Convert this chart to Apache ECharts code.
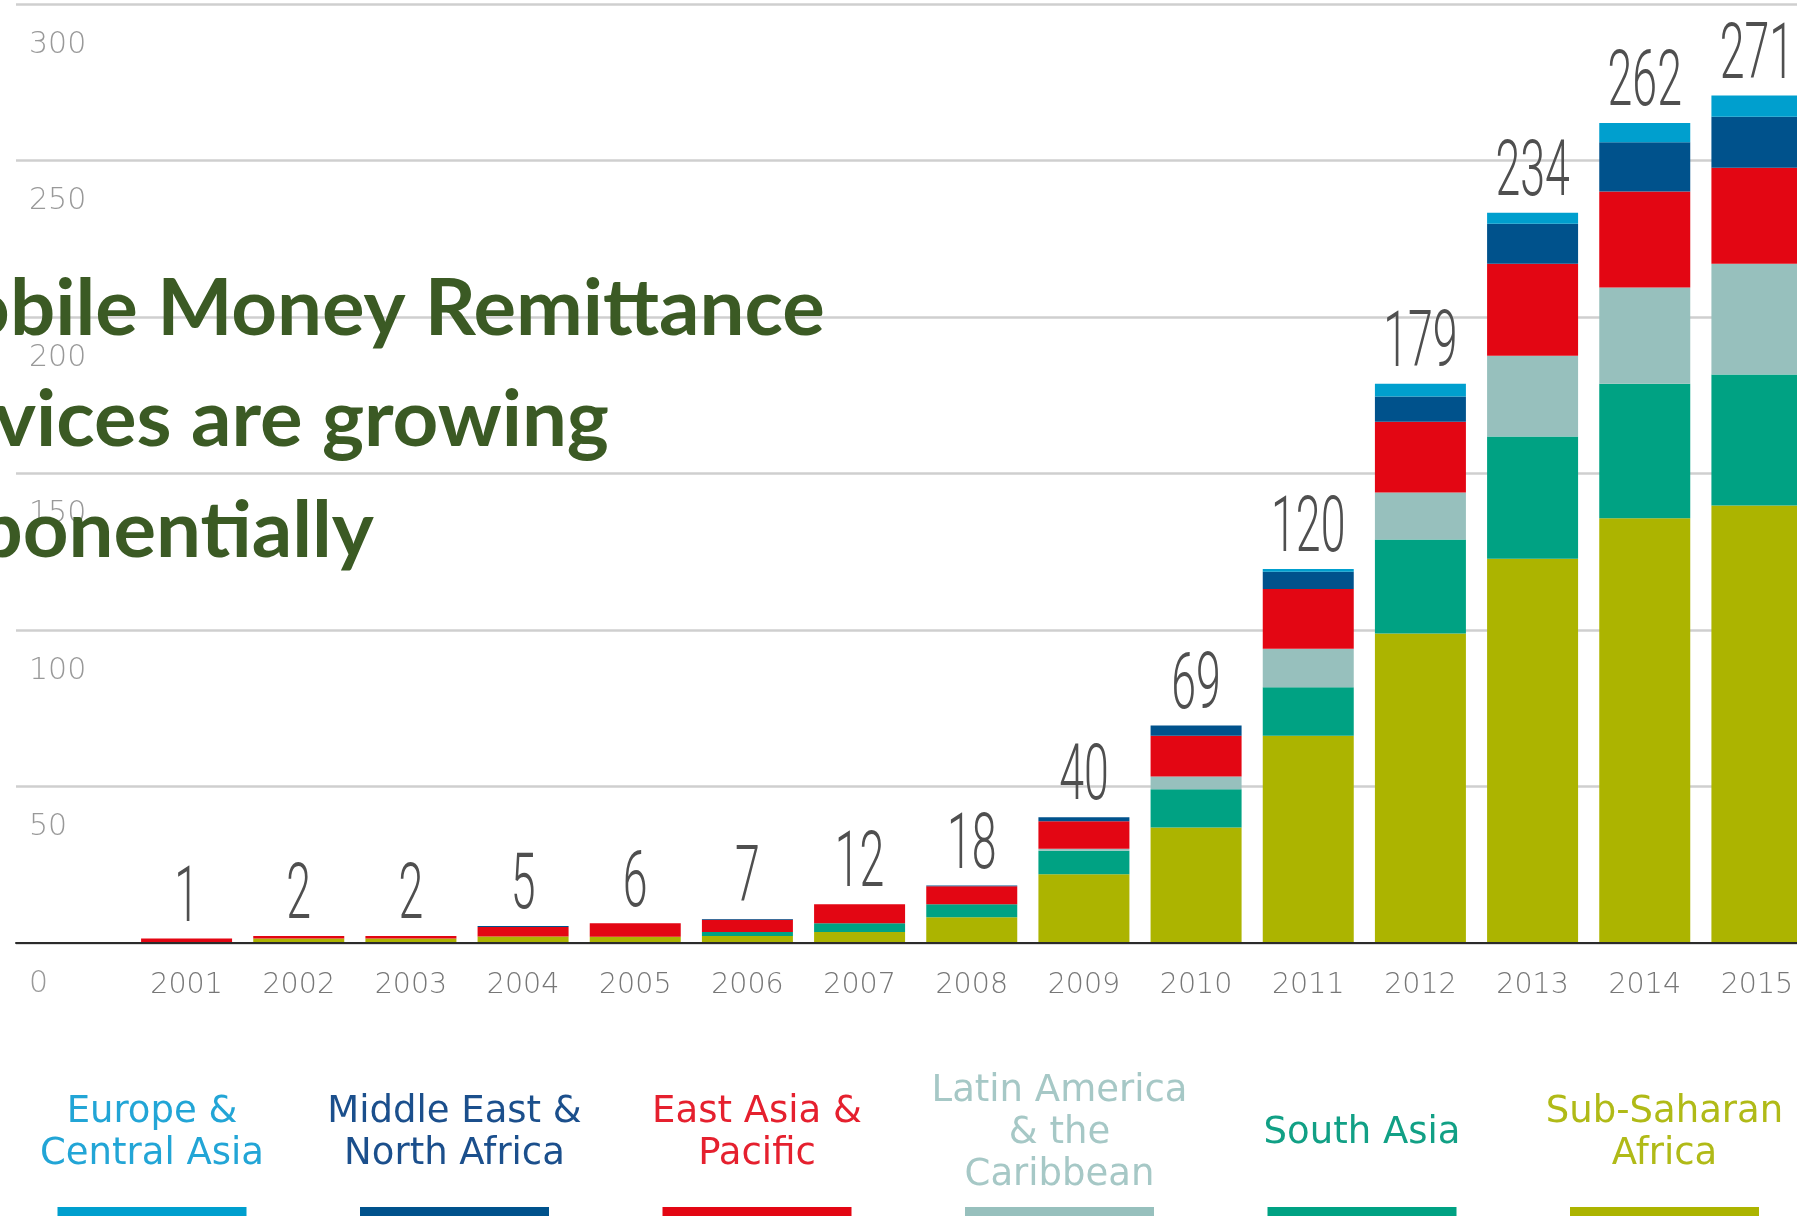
<!DOCTYPE html>
<html>
<head>
<meta charset="utf-8">
<script src="https://cdn.jsdelivr.net/npm/echarts@6/dist/echarts.min.js"></script>
<style>
  html, body { margin: 0; padding: 0; background: #fff; }
  #chart { width: 1797px; height: 1216px; }
</style>
</head>
<body>
<div id="chart"></div>
<script>
// categories
const years = ['2001', '2002', '2003', '2004', '2005', '2006', '2007', '2008', '2009', '2010', '2011', '2012', '2013', '2014', '2015']
// printed totals above each bar
const totalLabels = [1, 2, 2, 5, 6, 7, 12, 18, 40, 69, 120, 179, 234, 262, 271]

// stacked values, bottom to top
const subSaharanAfrica = [0, 1.4, 1.4, 2.1, 2.0, 2.2, 3.5, 8.2, 22.0, 36.9, 66.2, 98.9, 122.8, 135.7, 139.8]
const southAsia = [0, 0, 0, 0, 0, 1.3, 2.8, 4.2, 7.5, 12.2, 15.5, 30.0, 39.0, 43.0, 41.8]
const latinAmerica = [0, 0, 0, 0, 0, 0, 0, 0, 0.6, 4.1, 12.3, 15.0, 25.8, 30.7, 35.4]
const eastAsiaPacific = [1.4, 0.8, 0.8, 3.0, 4.3, 3.9, 6.1, 5.7, 8.8, 13.0, 19.1, 22.6, 29.4, 30.7, 30.7]
const middleEastNorthAfrica = [0, 0, 0, 0.3, 0, 0.3, 0, 0.3, 1.3, 3.3, 5.5, 8.1, 12.8, 15.7, 16.3]
const europeCentralAsia = [0, 0, 0, 0, 0, 0, 0, 0, 0, 0, 0.9, 4.1, 3.5, 6.2, 6.8]

// value axis
const yMin = 0
const yMax = 300
const yStep = 50

// legend (left to right)
const legendNames = ['Europe & Central Asia', 'Middle East & North Africa', 'East Asia & Pacific', 'Latin America & the Caribbean', 'South Asia', 'Sub-Saharan Africa']
const legendLines = ['Europe &\nCentral Asia', 'Middle East &\nNorth Africa', 'East Asia &\nPacific', 'Latin America\n& the\nCaribbean', 'South Asia', 'Sub-Saharan\nAfrica']
const legendTextColors = ['#22a5d6', '#1b4f8c', '#e5202e', '#a6c8c6', '#11a085', '#b0ba17']

const titleLines = ['Mobile Money Remittance', 'Services are growing', 'Exponentially']

const colors = {
  'Sub-Saharan Africa': '#acb400',
  'South Asia': '#00a283',
  'Latin America & the Caribbean': '#97c0bd',
  'East Asia & Pacific': '#e30613',
  'Middle East & North Africa': '#00528c',
  'Europe & Central Asia': '#009fce'
}

const stackOrder = [
  ['Sub-Saharan Africa', subSaharanAfrica],
  ['South Asia', southAsia],
  ['Latin America & the Caribbean', latinAmerica],
  ['East Asia & Pacific', eastAsiaPacific],
  ['Middle East & North Africa', middleEastNorthAfrica],
  ['Europe & Central Asia', europeCentralAsia]
]

// height of each stacked column (where the total label sits)
const stackTop = years.map((y, i) => stackOrder.reduce((s, item) => s + item[1][i], 0))

const chart = echarts.init(document.getElementById('chart'))

const barSeries = stackOrder.map(([name, values]) => ({
  name,
  type: 'bar',
  stack: 'total',
  xAxisIndex: 1,
  yAxisIndex: 1,
  barWidth: 91,
  itemStyle: { color: colors[name] },
  data: values
}))

// total labels, drawn condensed
const totalSeries = {
  type: 'custom',
  xAxisIndex: 1,
  yAxisIndex: 1,
  encode: { x: 0, y: 1 },
  z: 5,
  data: years.map((y, i) => [i, stackTop[i], totalLabels[i]]),
  renderItem: (params, api) => {
    const pt = api.coord([api.value(0), api.value(1)])
    return {
      type: 'text',
      x: pt[0],
      y: pt[1] - 37,
      scaleX: 0.58,
      style: {
        text: String(api.value(2)),
        font: '300 77px Roboto',
        fill: '#4f4f4f',
        align: 'center',
        textAlign: 'center',
        verticalAlign: 'middle',
        textVerticalAlign: 'middle'
      }
    }
  }
}

// title runs off the left edge, as in the source image
const titleX = [-110, -122, -110]
const graphics = []
titleLines.forEach((line, i) => {
  graphics.push({
    type: 'text',
    x: titleX[i],
    y: 310 + i * 111,
    scaleX: 1.022,
    z: 100,
    style: {
      text: line,
      font: 'bold 78px Lato',
      fill: '#3b5a24',
      align: 'left',
      textAlign: 'left',
      verticalAlign: 'middle',
      textVerticalAlign: 'middle'
    }
  })
})
legendNames.forEach((name, i) => {
  const cx = 152 + i * 302.5
  graphics.push({
    type: 'text',
    x: cx,
    y: 1133,
    style: {
      text: legendLines[i],
      font: '37px "DejaVu Sans"',
      lineHeight: 42,
      fill: legendTextColors[i],
      align: 'center',
      textAlign: 'center',
      verticalAlign: 'middle',
      textVerticalAlign: 'middle'
    }
  })
  graphics.push({
    type: 'rect',
    shape: { x: cx - 94.5, y: 1207, width: 189, height: 10 },
    style: { fill: colors[name] }
  })
})

const opt = {
  animation: false,
  backgroundColor: '#fff',
  grid: [
    // gridlines / baseline, full width
    { left: 16, right: 0, top: 4, bottom: 273, outerBoundsMode: 'none' },
    // bars, last column runs past the right edge
    { left: 130.5, right: -16, top: 4, bottom: 273, outerBoundsMode: 'none' }
  ],
  xAxis: [
    {
      gridIndex: 0,
      type: 'value',
      min: 0,
      max: 1,
      z: 10,
      axisLine: { show: true, lineStyle: { color: '#2b2b2b', width: 2 } },
      axisTick: { show: false },
      axisLabel: { show: false },
      splitLine: { show: false }
    },
    {
      gridIndex: 1,
      type: 'category',
      data: years,
      axisLine: { show: false },
      axisTick: { show: false },
      axisLabel: {
        margin: 28,
        color: '#777',
        fontFamily: 'DejaVu Sans',
        fontWeight: 200,
        fontSize: 28.5,
        lineHeight: 30
      }
    }
  ],
  yAxis: [
    {
      gridIndex: 0,
      type: 'value',
      min: yMin,
      max: yMax,
      interval: yStep,
      axisLine: { show: false },
      axisTick: { show: false },
      splitLine: { lineStyle: { color: '#cfcfcf', width: 2.5 } },
      axisLabel: {
        inside: true,
        margin: 13,
        color: '#999',
        fontFamily: 'DejaVu Sans',
        fontWeight: 200,
        fontSize: 30,
        verticalAlign: 'top',
        lineHeight: 30,
        padding: [26, 0, 0, 0]
      }
    },
    {
      gridIndex: 1,
      type: 'value',
      min: yMin,
      max: yMax,
      interval: yStep,
      show: false,
      splitLine: { show: false }
    }
  ],
  graphic: graphics,
  series: [...barSeries, totalSeries]
}

chart.setOption(opt, true)
</script>
</body>
</html>
